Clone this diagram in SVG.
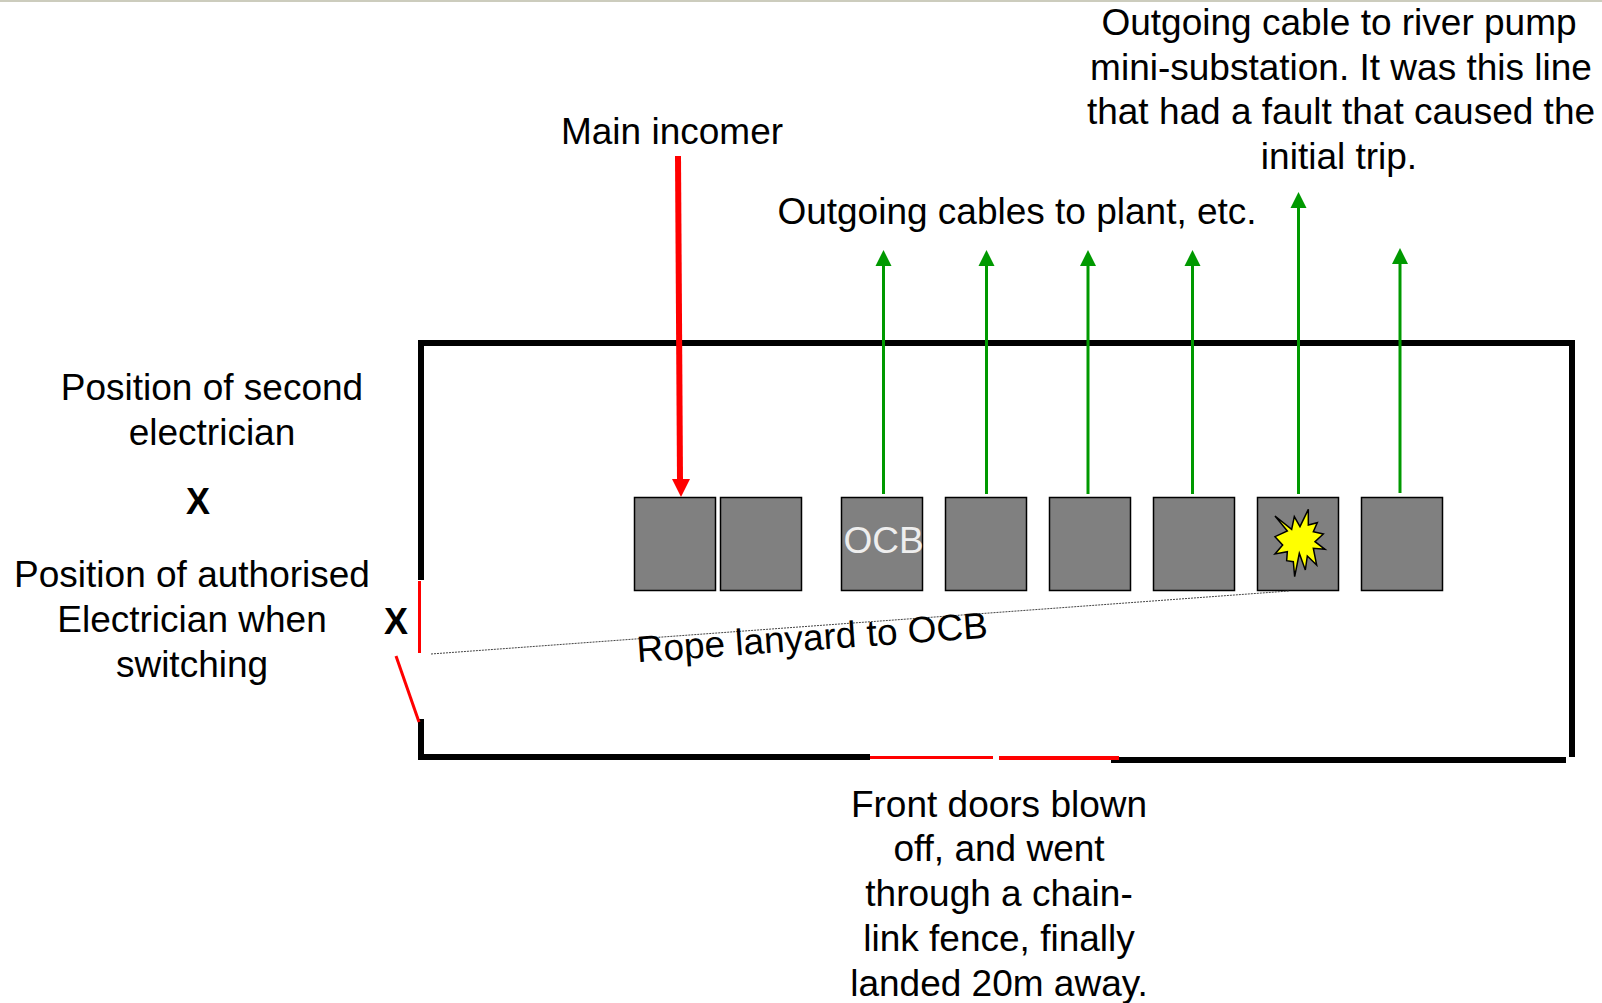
<svg xmlns="http://www.w3.org/2000/svg" width="1602" height="1003" viewBox="0 0 1602 1003">
<style>
text{font-family:"Liberation Sans",Arial,sans-serif;font-size:37px;fill:#000;text-anchor:middle}
.b{font-weight:bold;font-size:36px}
.wall{stroke:#000;stroke-width:6;fill:none}
.red{stroke:#f00;fill:none}
.grn{stroke:#090;stroke-width:3;fill:none}
.box{fill:#808080;stroke:#000;stroke-width:1.5}
</style>
<rect x="0" y="0" width="1602" height="2" fill="#ccccbd"/>
<g id="walls">
<path class="wall" d="M421 580V343H1572V757"/>
<path class="wall" d="M421 719V757H870"/>
<path class="wall" d="M1111 760H1566"/>
<path class="red" stroke-width="3" d="M870 757.500H993"/>
<path class="red" stroke-width="4" d="M999 758H1119"/>
<path class="red" stroke-width="3" d="M419.500 581V653"/>
<path class="red" stroke-width="3" d="M396 656L419 722"/>
</g>
<g id="box1"><rect class="box" x="634.500" y="497.500" width="81" height="93"/></g>
<g id="box2"><rect class="box" x="720.500" y="497.500" width="81" height="93"/></g>
<g id="box3"><rect class="box" x="841.500" y="497.500" width="81" height="93"/><text x="883.500" y="553" style="fill:#eee">OCB</text></g>
<g id="box4"><rect class="box" x="945.500" y="497.500" width="81" height="93"/></g>
<g id="box5"><rect class="box" x="1049.500" y="497.500" width="81" height="93"/></g>
<g id="box6"><rect class="box" x="1153.500" y="497.500" width="81" height="93"/></g>
<g id="box7"><rect class="box" x="1257.500" y="497.500" width="81" height="93"/>
<polygon transform="translate(1200 470) scale(.3333)" points="225,138 275,178 283,140 300,170 325,118 325,165 352,158 340,185 370,192 345,215 375,238 340,235 350,285 322,258 316,300 298,250 284,320 280,275 260,272 262,245 225,252 248,225 225,200 262,183" fill="#ff0" stroke="#000" stroke-width="4.500"/></g>
<g id="box8"><rect class="box" x="1361.500" y="497.500" width="81" height="93"/></g>
<g id="connectors">
<path class="red" stroke-width="6" d="M678 156L680 480"/>
<polygon points="672,479 690,479 681,497" fill="#f00"/>
<g fill="#090">
<path class="grn" d="M883.500 494V264"/><polygon points="875.500,266 891.500,266 883.500,250"/>
<path class="grn" d="M986.500 494V264"/><polygon points="978.500,266 994.500,266 986.500,250"/>
<path class="grn" d="M1088 494V264"/><polygon points="1080,266 1096,266 1088,250"/>
<path class="grn" d="M1192.500 494V264"/><polygon points="1184.500,266 1200.500,266 1192.500,250"/>
<path class="grn" d="M1298.500 494V208"/><polygon points="1290.500,208 1306.500,208 1298.500,192"/>
<path class="grn" d="M1400 493V264"/><polygon points="1392,264 1408,264 1400,248"/>
</g>
<path d="M431 654L1289 591" stroke="#444" stroke-width="1" stroke-dasharray="2 1" fill="none"/>
</g>
<g id="labels">
<text x="672" y="144">Main incomer</text>
<text x="1017" y="224">Outgoing cables to plant, etc.</text>
<text x="1339" y="35">Outgoing cable to river pump</text>
<text x="1341" y="80">mini-substation. It was this line</text>
<text x="1341" y="124">that had a fault that caused the</text>
<text x="1339" y="169">initial trip.</text>
<text x="212" y="400">Position of second</text>
<text x="212" y="445">electrician</text>
<text class="b" x="198" y="514">X</text>
<text x="192" y="587">Position of authorised</text>
<text x="192" y="632">Electrician when</text>
<text x="192" y="677">switching</text>
<text class="b" x="396" y="634">X</text>
<text transform="translate(813 650) rotate(-4)">Rope lanyard to OCB</text>
<text x="999" y="817">Front doors blown</text>
<text x="999" y="861">off, and went</text>
<text x="999" y="906">through a chain-</text>
<text x="999" y="951">link fence, finally</text>
<text x="999" y="996">landed 20m away.</text>
</g>
</svg>
